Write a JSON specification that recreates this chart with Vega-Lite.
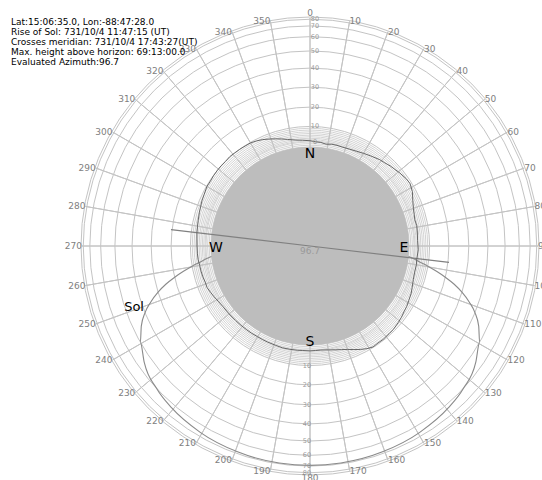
{
  "$schema": "https://vega.github.io/schema/vega-lite/v6.json",
  "autosize": {"type": "none"},
  "width": 440,
  "height": 440,
  "padding": {"left": 90, "top": 26, "right": 12, "bottom": 14},
  "background": "white",
  "config": {"view": {"stroke": null}, "font": "DejaVu Sans"},
  "title": {
    "text": ["Lat:15:06:35.0, Lon:-88:47:28.0", "Rise of Sol: 731/10/4 11:47:15 (UT)", "Crosses meridian: 731/10/4 17:43:27(UT)", "Max. height above horizon: 69:13:00.0", "Evaluated Azimuth:96.7"],
    "anchor": "start",
    "frame": "group",
    "orient": "top",
    "baseline": "top",
    "offset": -58,
    "dx": -79,
    "font": "DejaVu Sans",
    "fontSize": 9,
    "fontWeight": "normal",
    "color": "black",
    "lineHeight": 10
  },
  "datasets": {
    "rings": [{"alt": 10}, {"alt": 20}, {"alt": 30}, {"alt": 40}, {"alt": 50}, {"alt": 60}, {"alt": 70}, {"alt": 80}, {"alt": 90}],
    "fine": [{"alt": -3}, {"alt": -2}, {"alt": -1}, {"alt": 0}, {"alt": 1}, {"alt": 2}, {"alt": 3}, {"alt": 4}, {"alt": 5}, {"alt": 6}, {"alt": 7}, {"alt": 8}, {"alt": 9}],
    "disc": [{"alt": -3}],
    "spokes": [{"az": 0}, {"az": 10}, {"az": 20}, {"az": 30}, {"az": 40}, {"az": 50}, {"az": 60}, {"az": 70}, {"az": 80}, {"az": 90}, {"az": 100}, {"az": 110}, {"az": 120}, {"az": 130}, {"az": 140}, {"az": 150}, {"az": 160}, {"az": 170}, {"az": 180}, {"az": 190}, {"az": 200}, {"az": 210}, {"az": 220}, {"az": 230}, {"az": 240}, {"az": 250}, {"az": 260}, {"az": 270}, {"az": 280}, {"az": 290}, {"az": 300}, {"az": 310}, {"az": 320}, {"az": 330}, {"az": 340}, {"az": 350}],
    "profile": [
      {"az": 0, "alt": 1.2}, {"az": 3, "alt": 0.5}, {"az": 6, "alt": 0.2}, {"az": 9, "alt": -0.6}, {"az": 12, "alt": 0.1}, {"az": 15, "alt": 0.3}, {"az": 18, "alt": 0.1}, {"az": 22, "alt": 0.6}, {"az": 26, "alt": 1.4}, {"az": 30, "alt": 2.5}, {"az": 34, "alt": 3.6}, {"az": 39, "alt": 5.1}, {"az": 42, "alt": 5.6}, {"az": 45, "alt": 6.5}, {"az": 48, "alt": 7.1}, {"az": 51, "alt": 7.9}, {"az": 55, "alt": 8.8}, {"az": 58, "alt": 9.1}, {"az": 62, "alt": 8.0}, {"az": 66, "alt": 6.0}, {"az": 70, "alt": 4.5}, {"az": 73, "alt": 3.8}, {"az": 76, "alt": 3.2}, {"az": 79, "alt": 3.6}, {"az": 82, "alt": 3.4}, {"az": 87, "alt": 3.0}, {"az": 92, "alt": 3.4}, {"az": 97, "alt": 2.9}, {"az": 100, "alt": 3.2}, {"az": 104, "alt": 3.1}, {"az": 108, "alt": 3.6}, {"az": 112, "alt": 4.6}, {"az": 115, "alt": 5.5}, {"az": 119, "alt": 6.2}, {"az": 122, "alt": 6.9}, {"az": 125, "alt": 7.3}, {"az": 128, "alt": 8.0}, {"az": 131, "alt": 8.5}, {"az": 135, "alt": 9.1}, {"az": 138, "alt": 9.2}, {"az": 142, "alt": 9.5}, {"az": 145, "alt": 9.4}, {"az": 148, "alt": 9.7}, {"az": 151, "alt": 8.8}, {"az": 154, "alt": 7.5}, {"az": 157, "alt": 6.0}, {"az": 160, "alt": 4.5}, {"az": 163, "alt": 3.4}, {"az": 166, "alt": 2.5}, {"az": 170, "alt": 1.4}, {"az": 174, "alt": 0.6}, {"az": 177, "alt": 0.7}, {"az": 180, "alt": 0.9}, {"az": 184, "alt": 0.8}, {"az": 187, "alt": 1.0}, {"az": 191, "alt": 1.2}, {"az": 195, "alt": 1.4}, {"az": 199, "alt": 1.1}, {"az": 204, "alt": 1.0}, {"az": 207, "alt": 0.9}, {"az": 210, "alt": 0.8}, {"az": 214, "alt": 1.0}, {"az": 217, "alt": 1.0}, {"az": 221, "alt": 1.1}, {"az": 225, "alt": 1.2}, {"az": 230, "alt": 1.5}, {"az": 235, "alt": 1.8}, {"az": 239, "alt": 2.6}, {"az": 242, "alt": 3.5}, {"az": 245, "alt": 4.3}, {"az": 248, "alt": 5.1}, {"az": 251, "alt": 5.0}, {"az": 254, "alt": 5.4}, {"az": 257, "alt": 5.6}, {"az": 260, "alt": 5.7}, {"az": 263, "alt": 6.1}, {"az": 266, "alt": 6.2}, {"az": 270, "alt": 6.3}, {"az": 274, "alt": 6.5}, {"az": 277, "alt": 6.8}, {"az": 280, "alt": 7.0}, {"az": 283, "alt": 7.3}, {"az": 287, "alt": 7.8}, {"az": 290, "alt": 8.2}, {"az": 293, "alt": 8.7}, {"az": 296, "alt": 9.0}, {"az": 300, "alt": 9.7}, {"az": 303, "alt": 9.6}, {"az": 306, "alt": 9.9}, {"az": 309, "alt": 10.0}, {"az": 312, "alt": 10.1}, {"az": 315, "alt": 10.0}, {"az": 318, "alt": 10.3}, {"az": 321, "alt": 10.1}, {"az": 324, "alt": 10.0}, {"az": 327, "alt": 9.8}, {"az": 330, "alt": 9.7}, {"az": 333, "alt": 9.1}, {"az": 336, "alt": 8.3}, {"az": 339, "alt": 7.2}, {"az": 342, "alt": 6.1}, {"az": 345, "alt": 5.0}, {"az": 348, "alt": 3.8}, {"az": 352, "alt": 2.5}, {"az": 356, "alt": 1.8}, {"az": 360, "alt": 1.2}
    ],
    "sun": [
      {"az": 96.0, "alt": -3}, {"az": 96.9, "alt": 0}, {"az": 98.3, "alt": 5}, {"az": 99.7, "alt": 10}, {"az": 101.3, "alt": 15}, {"az": 103.0, "alt": 20}, {"az": 104.8, "alt": 25}, {"az": 106.9, "alt": 30}, {"az": 109.3, "alt": 35}, {"az": 112.0, "alt": 40}, {"az": 115.4, "alt": 45}, {"az": 119.6, "alt": 50}, {"az": 125.1, "alt": 55}, {"az": 132.9, "alt": 60}, {"az": 139.6, "alt": 63}, {"az": 149.5, "alt": 66}, {"az": 160.6, "alt": 68}, {"az": 171.9, "alt": 69}, {"az": 180.0, "alt": 69.2},
      {"az": 188.1, "alt": 69}, {"az": 199.4, "alt": 68}, {"az": 210.5, "alt": 66}, {"az": 220.4, "alt": 63}, {"az": 227.1, "alt": 60}, {"az": 234.9, "alt": 55}, {"az": 240.4, "alt": 50}, {"az": 244.6, "alt": 45}, {"az": 248.0, "alt": 40}, {"az": 250.7, "alt": 35}, {"az": 253.1, "alt": 30}, {"az": 255.2, "alt": 25}, {"az": 257.0, "alt": 20}, {"az": 258.7, "alt": 15}, {"az": 260.3, "alt": 10}, {"az": 261.7, "alt": 5}, {"az": 263.1, "alt": 0}, {"az": 264.0, "alt": -3}
    ],
    "azline": [{"az": 96.7}, {"az": 276.7}],
    "compass": [{"t": "N", "az": 0}, {"t": "E", "az": 90}, {"t": "S", "az": 180}, {"t": "W", "az": 270}],
    "altlab": [{"alt": 0}, {"alt": 10}, {"alt": 20}, {"alt": 30}, {"alt": 40}, {"alt": 50}, {"alt": 60}, {"alt": 70}, {"alt": 80}],
    "sol": [{"t": "Sol", "az": 251, "alt": 44.6}],
    "center": [{"t": "96.7", "az": 0}]
  },
  "layer": [
    {
      "data": {"name": "rings"},
      "transform": [{"calculate": "datum.alt < 0 ? 104 + 1.6*datum.alt : 104 + 125*pow(sin(datum.alt*PI/180), 1.19)", "as": "r"}],
      "mark": {"type": "arc", "fill": "transparent", "stroke": "#c4c4c4", "strokeWidth": 1},
      "encoding": {
        "theta": {"datum": 0, "scale": {"type": "linear", "domain": [0, 360], "range": [0, 6.283185307179586], "zero": false, "nice": false}, "stack": null},
        "theta2": {"datum": 360},
        "radius": {"field": "r", "type": "quantitative", "scale": {"type": "linear", "domain": [0, 240], "range": [0, 240], "zero": true, "nice": false}},
        "radius2": {"datum": 0}
      }
    },
    {
      "data": {"name": "fine"},
      "transform": [{"calculate": "datum.alt < 0 ? 104 + 1.6*datum.alt : 104 + 125*pow(sin(datum.alt*PI/180), 1.19)", "as": "r"}],
      "mark": {"type": "arc", "fill": "transparent", "stroke": "#c8c8c8", "strokeWidth": 0.8},
      "encoding": {
        "theta": {"datum": 0, "scale": {"type": "linear", "domain": [0, 360], "range": [0, 6.283185307179586], "zero": false, "nice": false}, "stack": null},
        "theta2": {"datum": 360},
        "radius": {"field": "r", "type": "quantitative", "scale": {"type": "linear", "domain": [0, 240], "range": [0, 240], "zero": true, "nice": false}},
        "radius2": {"datum": 0}
      }
    },
    {
      "data": {"name": "spokes"},
      "mark": {"type": "arc", "fill": "transparent", "stroke": "#c4c4c4", "strokeWidth": 1},
      "encoding": {
        "theta": {"field": "az", "type": "quantitative", "scale": {"type": "linear", "domain": [0, 360], "range": [0, 6.283185307179586], "zero": false, "nice": false}, "stack": null},
        "theta2": {"field": "az"},
        "radius": {"datum": 228, "scale": {"type": "linear", "domain": [0, 240], "range": [0, 240], "zero": true, "nice": false}},
        "radius2": {"datum": 99}
      }
    },
    {
      "data": {"name": "disc"},
      "transform": [{"calculate": "datum.alt < 0 ? 104 + 1.6*datum.alt : 104 + 125*pow(sin(datum.alt*PI/180), 1.19)", "as": "r"}],
      "mark": {"type": "arc", "fill": "#bdbdbd", "strokeWidth": 0},
      "encoding": {
        "theta": {"datum": 0, "scale": {"type": "linear", "domain": [0, 360], "range": [0, 6.283185307179586], "zero": false, "nice": false}, "stack": null},
        "theta2": {"datum": 360},
        "radius": {"field": "r", "type": "quantitative", "scale": {"type": "linear", "domain": [0, 240], "range": [0, 240], "zero": true, "nice": false}},
        "radius2": {"datum": 0}
      }
    },
    {
      "data": {"name": "sun"},
      "transform": [
        {"calculate": "datum.alt < 0 ? 104 + 1.6*datum.alt : 104 + 125*pow(sin(datum.alt*PI/180), 1.19)", "as": "r"},
        {"calculate": "datum.r*sin(datum.az*PI/180)", "as": "x"},
        {"calculate": "datum.r*cos(datum.az*PI/180)", "as": "y"}
      ],
      "mark": {"type": "line", "color": "#8a8a8a", "strokeWidth": 1.1, "interpolate": "monotone"},
      "encoding": {
        "x": {"field": "x", "type": "quantitative", "scale": {"domain": [-220, 220], "nice": false, "zero": false}, "axis": null},
        "y": {"field": "y", "type": "quantitative", "scale": {"domain": [-220, 220], "nice": false, "zero": false}, "axis": null},
        "order": {"value": null}
      }
    },
    {
      "data": {"name": "azline"},
      "mark": {"type": "arc", "fill": "transparent", "stroke": "#808080", "strokeWidth": 1.2},
      "encoding": {
        "theta": {"field": "az", "type": "quantitative", "scale": {"type": "linear", "domain": [0, 360], "range": [0, 6.283185307179586], "zero": false, "nice": false}, "stack": null},
        "theta2": {"field": "az"},
        "radius": {"datum": 140, "scale": {"type": "linear", "domain": [0, 240], "range": [0, 240], "zero": true, "nice": false}},
        "radius2": {"datum": 0}
      }
    },
    {
      "data": {"name": "profile"},
      "transform": [
        {"calculate": "datum.alt < 0 ? 104 + 1.6*datum.alt : 104 + 125*pow(sin(datum.alt*PI/180), 1.19)", "as": "r"},
        {"calculate": "datum.r*sin(datum.az*PI/180)", "as": "x"},
        {"calculate": "datum.r*cos(datum.az*PI/180)", "as": "y"}
      ],
      "mark": {"type": "line", "color": "#666666", "strokeWidth": 1},
      "encoding": {
        "x": {"field": "x", "type": "quantitative", "scale": {"domain": [-220, 220], "nice": false, "zero": false}, "axis": null},
        "y": {"field": "y", "type": "quantitative", "scale": {"domain": [-220, 220], "nice": false, "zero": false}, "axis": null},
        "order": {"value": null}
      }
    },
    {
      "data": {"name": "spokes"},
      "transform": [{"filter": "datum.az == 0"}],
      "mark": {"type": "text", "align": "center", "baseline": "bottom", "fontSize": 9, "fill": "#808080"},
      "encoding": {
        "theta": {"field": "az", "type": "quantitative", "scale": {"type": "linear", "domain": [0, 360], "range": [0, 6.283185307179586], "zero": false, "nice": false}, "stack": null},
        "radius": {"datum": 228, "scale": {"type": "linear", "domain": [0, 240], "range": [0, 240], "zero": true, "nice": false}},
        "text": {"field": "az", "type": "quantitative", "format": "d"}
      }
    },
    {
      "data": {"name": "spokes"},
      "transform": [{"filter": "datum.az == 180"}],
      "mark": {"type": "text", "align": "center", "baseline": "top", "fontSize": 9, "fill": "#808080"},
      "encoding": {
        "theta": {"field": "az", "type": "quantitative", "scale": {"type": "linear", "domain": [0, 360], "range": [0, 6.283185307179586], "zero": false, "nice": false}, "stack": null},
        "radius": {"datum": 228, "scale": {"type": "linear", "domain": [0, 240], "range": [0, 240], "zero": true, "nice": false}},
        "text": {"field": "az", "type": "quantitative", "format": "d"}
      }
    },
    {
      "data": {"name": "spokes"},
      "transform": [{"filter": "datum.az > 0 && datum.az < 180"}],
      "mark": {"type": "text", "align": "left", "baseline": "middle", "fontSize": 9, "fill": "#808080"},
      "encoding": {
        "theta": {"field": "az", "type": "quantitative", "scale": {"type": "linear", "domain": [0, 360], "range": [0, 6.283185307179586], "zero": false, "nice": false}, "stack": null},
        "radius": {"datum": 228, "scale": {"type": "linear", "domain": [0, 240], "range": [0, 240], "zero": true, "nice": false}},
        "text": {"field": "az", "type": "quantitative", "format": "d"}
      }
    },
    {
      "data": {"name": "spokes"},
      "transform": [{"filter": "datum.az > 180"}],
      "mark": {"type": "text", "align": "right", "baseline": "middle", "fontSize": 9, "fill": "#808080"},
      "encoding": {
        "theta": {"field": "az", "type": "quantitative", "scale": {"type": "linear", "domain": [0, 360], "range": [0, 6.283185307179586], "zero": false, "nice": false}, "stack": null},
        "radius": {"datum": 228, "scale": {"type": "linear", "domain": [0, 240], "range": [0, 240], "zero": true, "nice": false}},
        "text": {"field": "az", "type": "quantitative", "format": "d"}
      }
    },
    {
      "data": {"name": "altlab"},
      "transform": [{"calculate": "datum.alt < 0 ? 104 + 1.6*datum.alt : 104 + 125*pow(sin(datum.alt*PI/180), 1.19)", "as": "r"}],
      "mark": {"type": "text", "align": "center", "baseline": "middle", "fontSize": 6.5, "fill": "#999999", "dx": 5},
      "encoding": {
        "theta": {"datum": 0, "scale": {"type": "linear", "domain": [0, 360], "range": [0, 6.283185307179586], "zero": false, "nice": false}, "stack": null},
        "radius": {"field": "r", "type": "quantitative", "scale": {"type": "linear", "domain": [0, 240], "range": [0, 240], "zero": true, "nice": false}},
        "text": {"field": "alt", "type": "quantitative", "format": "d"}
      }
    },
    {
      "data": {"name": "altlab"},
      "transform": [{"filter": "datum.alt > 0"}, {"calculate": "datum.alt < 0 ? 104 + 1.6*datum.alt : 104 + 125*pow(sin(datum.alt*PI/180), 1.19)", "as": "r"}],
      "mark": {"type": "text", "align": "center", "baseline": "middle", "fontSize": 6.5, "fill": "#999999", "dx": -3},
      "encoding": {
        "theta": {"datum": 180, "scale": {"type": "linear", "domain": [0, 360], "range": [0, 6.283185307179586], "zero": false, "nice": false}, "stack": null},
        "radius": {"field": "r", "type": "quantitative", "scale": {"type": "linear", "domain": [0, 240], "range": [0, 240], "zero": true, "nice": false}},
        "text": {"field": "alt", "type": "quantitative", "format": "d"}
      }
    },
    {
      "data": {"name": "compass"},
      "mark": {"type": "text", "align": "center", "baseline": "middle", "fontSize": 14, "fill": "black", "dy": 2},
      "encoding": {
        "theta": {"field": "az", "type": "quantitative", "scale": {"type": "linear", "domain": [0, 360], "range": [0, 6.283185307179586], "zero": false, "nice": false}, "stack": null},
        "radius": {"datum": 94, "scale": {"type": "linear", "domain": [0, 240], "range": [0, 240], "zero": true, "nice": false}},
        "text": {"field": "t", "type": "nominal"}
      }
    },
    {
      "data": {"name": "center"},
      "mark": {"type": "text", "align": "center", "baseline": "middle", "fontSize": 9, "fill": "#999999", "dy": 5},
      "encoding": {
        "theta": {"field": "az", "type": "quantitative", "scale": {"type": "linear", "domain": [0, 360], "range": [0, 6.283185307179586], "zero": false, "nice": false}, "stack": null},
        "radius": {"datum": 0, "scale": {"type": "linear", "domain": [0, 240], "range": [0, 240], "zero": true, "nice": false}},
        "text": {"field": "t", "type": "nominal"}
      }
    },
    {
      "data": {"name": "sol"},
      "transform": [{"calculate": "datum.alt < 0 ? 104 + 1.6*datum.alt : 104 + 125*pow(sin(datum.alt*PI/180), 1.19)", "as": "r"}],
      "mark": {"type": "text", "align": "center", "baseline": "middle", "fontSize": 13, "fill": "black"},
      "encoding": {
        "theta": {"field": "az", "type": "quantitative", "scale": {"type": "linear", "domain": [0, 360], "range": [0, 6.283185307179586], "zero": false, "nice": false}, "stack": null},
        "radius": {"field": "r", "type": "quantitative", "scale": {"type": "linear", "domain": [0, 240], "range": [0, 240], "zero": true, "nice": false}},
        "text": {"field": "t", "type": "nominal"}
      }
    }
  ]
}
